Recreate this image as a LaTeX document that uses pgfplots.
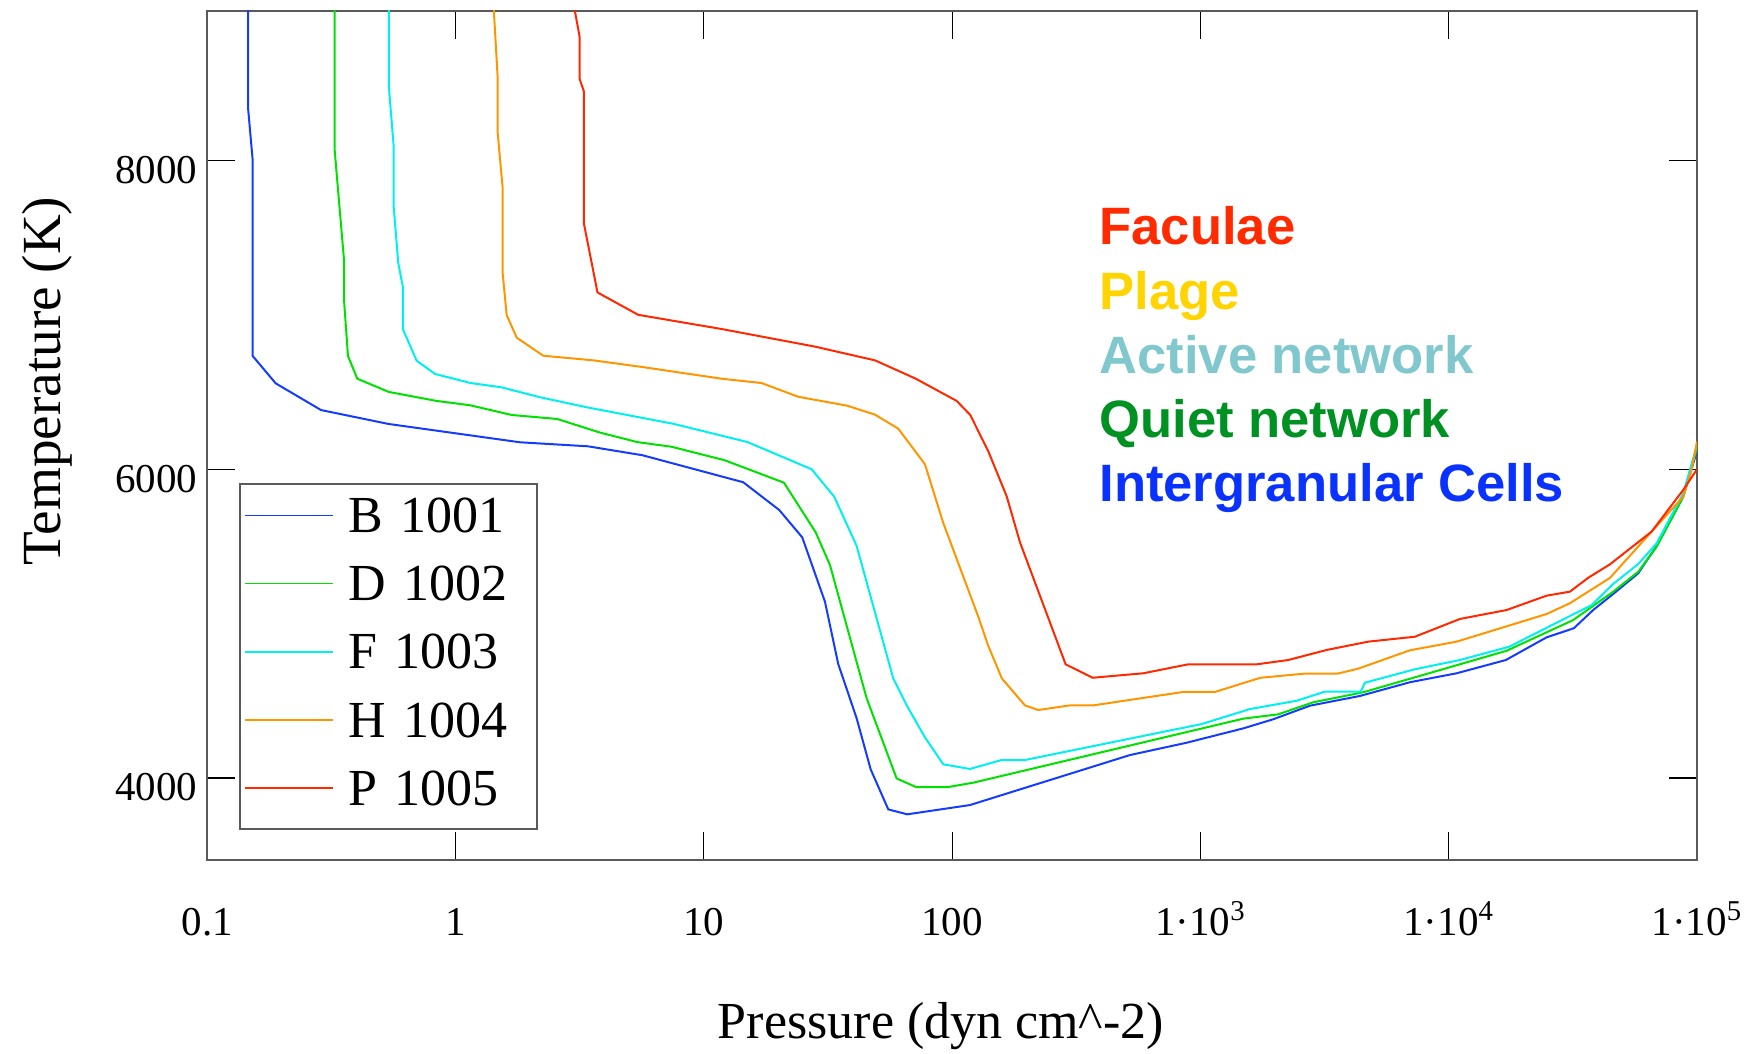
\documentclass[border=0pt]{standalone}
\usepackage{fontspec}
\setmainfont{Liberation Serif}
\newfontfamily\labelsans{Liberation Sans}
\usepackage{pgfplots}
\pgfplotsset{compat=1.18}

\definecolor{cB}{RGB}{20,60,255}
\definecolor{cD}{RGB}{0,225,0}
\definecolor{cF}{RGB}{0,240,240}
\definecolor{cH}{RGB}{255,150,0}
\definecolor{cP}{RGB}{255,40,0}
\definecolor{tFac}{RGB}{255,42,0}
\definecolor{tPla}{RGB}{255,212,0}
\definecolor{tAct}{RGB}{128,200,205}
\definecolor{tQui}{RGB}{0,145,35}
\definecolor{tInt}{RGB}{10,50,255}
\definecolor{framegray}{RGB}{90,90,90}

\newcommand{\tenpow}[1]{1·10\textsuperscript{#1}}

\begin{document}
\begin{tikzpicture}
\useasboundingbox (0,0) rectangle (875.5pt,527pt);
\begin{axis}[
  at={(103.65pt,97pt)}, anchor=south west,
  scale only axis, width=744.85pt, height=424.65pt,
  xmode=log, xmin=0.1, xmax=1e5, ymin=3468, ymax=8972,
  xtick={0.1,1,10,100,1000,10000,100000},
  xticklabels={0.1,1,10,100,\tenpow{3},\tenpow{4},\tenpow{5}},
  xminorticks=false,
  ytick={4000,6000,8000}, yticklabels={4000,6000,8000},
  tick align=inside, major tick length=14pt,
  tick style={black, line width=0.6pt},
  axis line style={framegray, line width=1pt},
  tick label style={font=\fontsize{20.5}{20.5}\selectfont},
  xticklabel style={anchor=base, yshift=-38pt},
  yticklabel style={anchor=base east, inner xsep=0pt, xshift=-4.75pt, yshift=-11.5pt},
  xlabel={Pressure (dyn cm\textasciicircum-2)},
  ylabel={Temperature (K)},
  xlabel style={font=\fontsize{26}{26}\selectfont,
    at={(axis description cs:0.4925,-0.2096)}, anchor=base},
  ylabel style={font=\fontsize{27.6}{27.6}\selectfont,
    at={(axis description cs:-0.0985,0.564)}, anchor=base},
  legend style={
    at={(axis description cs:0.02148,0.4442)}, anchor=north west,
    draw=framegray, line width=1pt, fill=white,
    inner xsep=2pt, inner ysep=1.1pt, row sep=0pt,
    font=\fontsize{26}{26}\selectfont,
    cells={anchor=base west},
    nodes={inner sep=0pt, text height=23.3pt, text depth=10.8pt,
           text width=92.15pt, align=left},
    /tikz/every odd column/.append style={column sep=7.65pt},
  },
  legend image code/.code={\draw[#1, line width=0.8pt] (0pt,8.6pt) -- (43.7pt,8.6pt);},
  every axis plot/.append style={line width=1pt},
]
% B 1001
\addplot[cB] coordinates {
(0.1462,9000) (0.1462,8329) (0.1524,8000) (0.1524,6734) (0.1886,6557)
(0.287,6384) (0.5358,6294) (1.817,6175) (3.41,6149) (5.66,6091)
(14.41,5916) (20.12,5736) (24.90,5559) (30.74,5142) (34.77,4738)
(41.25,4386) (46.96,4056) (55.3,3796) (65.95,3764) (117.9,3824)
(193.4,3932) (520,4148) (879.8,4228) (1488,4321) (1964,4380)
(2761,4468) (4389,4531) (6978,4620) (10760,4678) (16990,4764)
(24790,4911) (31930,4970) (38180,5088) (45980,5192) (57980,5326)
(68770,5503) (87990,5822) (100000,6120)
};
\addlegendentry{B 1001}
% D 1002
\addplot[cD] coordinates {
(0.3258,9000) (0.3258,8069) (0.3554,7356) (0.3554,7097) (0.3687,6734)
(0.4019,6587) (0.5393,6501) (0.8392,6443) (1.143,6415) (1.682,6352)
(2.568,6326) (3.815,6238) (5.403,6176) (7.418,6146) (12.16,6058)
(21.02,5913) (28.20,5592) (32.20,5380) (45.25,4516) (59.74,3997)
(71.46,3941) (96.45,3941) (121.6,3969) (1488,4384) (2057,4412)
(2847,4490) (4527,4555) (17110,4824) (31720,5023) (45980,5207)
(57980,5336) (68770,5498) (87990,5822) (100000,6140)
};
\addlegendentry{D 1002}
% F 1003
\addplot[cF] coordinates {
(0.5393,9000) (0.5393,8469) (0.5633,8091) (0.5633,7702) (0.5879,7335)
(0.6140,7179) (0.6140,6907) (0.697,6704) (0.826,6618) (1.150,6559)
(1.533,6531) (2.187,6467) (3.373,6402) (7.579,6294) (14.96,6177)
(27.18,6000) (33.51,5822) (41.25,5503) (57.9,4645) (65.53,4472)
(77.7,4263) (92.1,4088) (117.9,4058) (158.2,4116) (196.4,4116)
(1011,4349) (1582,4446) (2440,4500) (3172,4559) (4418,4559)
(4598,4617) (7309,4704) (11090,4764) (17520,4850) (37620,5120)
(45980,5257) (57980,5386) (68770,5520) (87990,5844) (100000,6160)
};
\addlegendentry{F 1003}
% H 1004
\addplot[cH] coordinates {
(1.423,9000) (1.478,8534) (1.478,8178) (1.548,7821) (1.548,7270)
(1.606,7000) (1.763,6853) (2.255,6736) (3.585,6706) (5.53,6665)
(11.79,6587) (17.09,6559) (24.0,6470) (37.8,6412) (48.9,6354)
(60.7,6263) (77.7,6033) (92.1,5652) (127.4,5045) (139.8,4855)
(158.6,4645) (196.4,4470) (222.3,4440) (298.1,4470) (370.1,4470)
(852.4,4557) (1144,4557) (1744,4649) (2594,4675) (3556,4675)
(4321,4708) (6978,4827) (10760,4883) (24790,5062) (30770,5132)
(44600,5296) (65640,5596) (87990,5822) (95060,5995) (100000,6180)
};
\addlegendentry{H 1004}
% P 1005
\addplot[cP] coordinates {
(3.0,9000) (3.162,8800) (3.162,8528) (3.290,8447) (3.290,7590)
(3.729,7146) (5.44,7001) (11.79,6909) (28.02,6795) (48.9,6706)
(71.2,6588) (104.3,6443) (118.3,6352) (139.8,6117) (165.8,5825)
(187.6,5527) (286.5,4736) (368,4649) (588.5,4678) (893,4736)
(1684,4736) (2257,4764) (3223,4829) (4742,4883) (7309,4915)
(11090,5030) (17110,5088) (24790,5181) (30770,5207) (36460,5297)
(44600,5384) (65640,5596) (87990,5866) (100000,6000)
};
\addlegendentry{P 1005}
\end{axis}
% region names
\begin{scope}[every node/.style={anchor=base west, inner sep=0pt,
    font=\labelsans\bfseries\fontsize{26.3}{26.3}\selectfont}]
\node[text=tFac] at (549.5pt,404.5pt) {Faculae};
\node[text=tPla] at (549.5pt,372.4pt) {Plage};
\node[text=tAct] at (549.5pt,340.35pt) {Active network};
\node[text=tQui] at (549.5pt,308.35pt) {Quiet network};
\node[text=tInt] at (549.5pt,276.15pt) {Intergranular Cells};
\end{scope}
\end{tikzpicture}
\end{document}
